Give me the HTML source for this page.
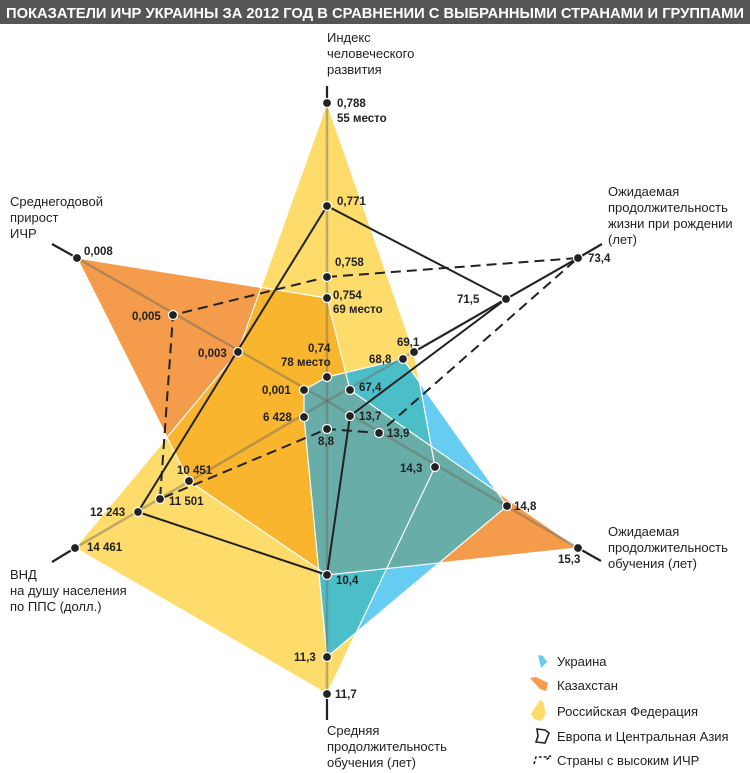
<!DOCTYPE html>
<html><head><meta charset="utf-8"><style>
html,body{margin:0;padding:0;background:#fff}
svg{display:block}
.t{font-family:"Liberation Sans",sans-serif;font-size:13px;fill:#222}
.v{font-family:"Liberation Sans",sans-serif;font-size:11.5px;font-weight:bold;fill:#222}
</style></head><body>
<svg width="750" height="773" viewBox="0 0 750 773" xmlns="http://www.w3.org/2000/svg">
<defs>
<clipPath id="cy"><polygon points="327,103 414,352 435,467 327,694 75,548 238,352"/></clipPath>
<clipPath id="co"><polygon points="327,298 350,390 578,548 327,575 189,481 77,258"/></clipPath>
</defs>
<rect x="0" y="0" width="750" height="24" fill="#555"/>
<text x="6" y="18" font-family="Liberation Sans,sans-serif" font-weight="bold" font-size="15" fill="#fff" textLength="738" lengthAdjust="spacingAndGlyphs">ПОКАЗАТЕЛИ ИЧР УКРАИНЫ ЗА 2012 ГОД В СРАВНЕНИИ С ВЫБРАННЫМИ СТРАНАМИ И ГРУППАМИ</text>

<polygon points="327,298 350,390 578,548 327,575 189,481 77,258" fill="#F59B4C"/>
<polygon points="327,103 414,352 435,467 327,694 75,548 238,352" fill="#FDDC6C"/>
<polygon points="327,298 350,390 578,548 327,575 189,481 77,258" fill="#F9B52D" clip-path="url(#cy)"/>
<polygon points="327,377 403,359 507,506 327,657 304,417 304,390" fill="#66CCF2"/>
<polygon points="327,377 403,359 507,506 327,657 304,417 304,390" fill="#4BBEC8" clip-path="url(#cy)"/>
<polygon points="327,377 403,359 507,506 327,657 304,417 304,390" fill="#68ADA8" clip-path="url(#co)"/>
<g fill="none" stroke="#fff" stroke-width="1.2">
<polygon points="327,298 350,390 578,548 327,575 189,481 77,258"/>
<polygon points="327,103 414,352 435,467 327,694 75,548 238,352"/>
<polygon points="327,377 403,359 507,506 327,657 304,417 304,390"/>
</g>

<g stroke="#6f6a5a" stroke-opacity="0.45" stroke-width="2.5">
<line x1="327" y1="401" x2="327" y2="103"/>
<line x1="327" y1="401" x2="327" y2="694"/>
<line x1="327" y1="401" x2="77" y2="258"/>
<line x1="327" y1="401" x2="75" y2="548"/>
<line x1="327" y1="401" x2="578" y2="258"/>
<line x1="327" y1="401" x2="578" y2="548"/>
</g>
<g stroke="#222" stroke-width="2.2">
<line x1="327" y1="86" x2="327" y2="103"/>
<line x1="327" y1="694" x2="327" y2="720"/>
<line x1="52" y1="244" x2="77" y2="258"/>
<line x1="52" y1="562" x2="75" y2="548"/>
<line x1="578" y1="258" x2="602" y2="244"/>
<line x1="578" y1="548" x2="601" y2="561"/>
</g>

<g stroke="#222" stroke-width="2" fill="none">
<polyline points="138,512 327,206 506,299 350,416 327,575 138,512"/>
<line x1="506" y1="299" x2="414" y2="352"/>
<line x1="506" y1="299" x2="578" y2="258"/>
</g>
<polygon points="327,277 578,258 379,433 327,429 160,499 173,315" fill="none" stroke="#222" stroke-width="2" stroke-dasharray="10,6"/>

<g fill="#222" stroke="#fff" stroke-width="1.2">
<circle cx="327" cy="103" r="4.5"/><circle cx="327" cy="206" r="4.5"/><circle cx="327" cy="277" r="4.5"/><circle cx="327" cy="298" r="4.5"/><circle cx="327" cy="377" r="4.5"/>
<circle cx="578" cy="258" r="4.5"/><circle cx="506" cy="299" r="4.5"/><circle cx="414" cy="352" r="4.5"/><circle cx="403" cy="359" r="4.5"/><circle cx="350" cy="390" r="4.5"/>
<circle cx="350" cy="416" r="4.5"/><circle cx="379" cy="433" r="4.5"/><circle cx="435" cy="467" r="4.5"/><circle cx="507" cy="506" r="4.5"/><circle cx="578" cy="548" r="4.5"/>
<circle cx="327" cy="429" r="4.5"/><circle cx="327" cy="575" r="4.5"/><circle cx="327" cy="657" r="4.5"/><circle cx="327" cy="694" r="4.5"/>
<circle cx="304" cy="417" r="4.5"/><circle cx="189" cy="481" r="4.5"/><circle cx="160" cy="499" r="4.5"/><circle cx="138" cy="512" r="4.5"/><circle cx="75" cy="548" r="4.5"/>
<circle cx="304" cy="390" r="4.5"/><circle cx="238" cy="352" r="4.5"/><circle cx="173" cy="315" r="4.5"/><circle cx="77" cy="258" r="4.5"/>
</g>

<g class="v">
<text x="337" y="107" class="v">0,788</text><text x="337" y="122" class="v">55 место</text>
<text x="337" y="205" class="v">0,771</text>
<text x="335" y="266" class="v">0,758</text>
<text x="333" y="299" class="v">0,754</text><text x="333" y="313" class="v">69 место</text>
<text x="308" y="352" class="v">0,74</text><text x="281" y="366" class="v">78 место</text>
<text x="262" y="394" class="v">0,001</text>
<text x="263" y="421" class="v">6 428</text>
<text x="318" y="445" class="v">8,8</text>
<text x="359" y="391" class="v">67,4</text>
<text x="359" y="420" class="v">13,7</text>
<text x="387" y="437" class="v">13,9</text>
<text x="400" y="472" class="v">14,3</text>
<text x="514" y="510" class="v">14,8</text>
<text x="558" y="563" class="v">15,3</text>
<text x="336" y="584" class="v">10,4</text>
<text x="294" y="661" class="v">11,3</text>
<text x="335" y="698" class="v">11,7</text>
<text x="369" y="363" class="v">68,8</text>
<text x="397" y="346" class="v">69,1</text>
<text x="457" y="303" class="v">71,5</text>
<text x="588" y="262" class="v">73,4</text>
<text x="84" y="255" class="v">0,008</text>
<text x="132" y="320" class="v">0,005</text>
<text x="198" y="357" class="v">0,003</text>
<text x="177" y="474" class="v">10 451</text>
<text x="169" y="505" class="v">11 501</text>
<text x="90" y="516" class="v">12 243</text>
<text x="87" y="551" class="v">14 461</text>
</g>

<g class="t">
<text x="327" y="42">Индекс</text><text x="327" y="58">человеческого</text><text x="327" y="74">развития</text>
<text x="608" y="196">Ожидаемая</text><text x="608" y="212">продолжительность</text><text x="608" y="228">жизни при рождении</text><text x="608" y="244">(лет)</text>
<text x="608" y="536">Ожидаемая</text><text x="608" y="552">продолжительность</text><text x="608" y="568">обучения (лет)</text>
<text x="327" y="735">Средняя</text><text x="327" y="751">продолжительность</text><text x="327" y="767">обучения (лет)</text>
<text x="10" y="579">ВНД</text><text x="10" y="595">на душу населения</text><text x="10" y="611">по ППС (долл.)</text>
<text x="10" y="206">Среднегодовой</text><text x="10" y="222">прирост</text><text x="10" y="238">ИЧР</text>
</g>

<polygon points="538,655 543,656 547,662 541,668" fill="#66CCF2"/>
<polygon points="530,678 536,677 548,683 546,691 540,689" fill="#F59B4C"/>
<polygon points="540,700 543,702 546,714 541,721 534,719 531,714" fill="#FDDC6C"/>
<polygon points="537,729 545,730 549,733 545,743 536,742 538,736" fill="none" stroke="#222" stroke-width="1.6"/>
<polyline points="534,764 536,757 546,757 551,756 546,760" fill="none" stroke="#222" stroke-width="1.6" stroke-dasharray="3,2"/>
<g class="t">
<text x="557" y="666">Украина</text>
<text x="557" y="690">Казахстан</text>
<text x="557" y="716">Российская Федерация</text>
<text x="557" y="741">Европа и Центральная Азия</text>
<text x="557" y="765">Страны с высоким ИЧР</text>
</g>
</svg>
</body></html>
